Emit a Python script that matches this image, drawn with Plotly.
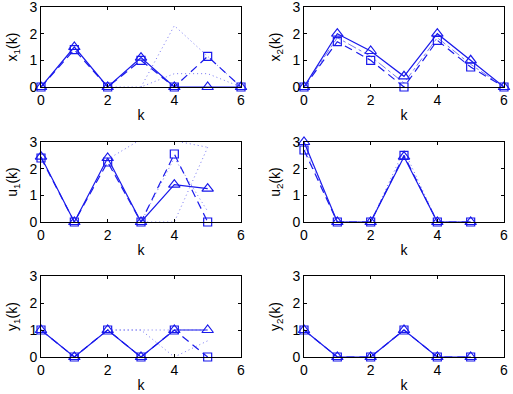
import plotly.graph_objects as go

# ---------------- data ----------------
k7 = [0, 1, 2, 3, 4, 5, 6]
k6 = [0, 1, 2, 3, 4, 5]

x1_tri = [0, 1.5, 0, 1.1, 0, 0, 0]
x1_sq = [0, 1.4, 0, 1.0, 0, 1.15, 0]
x1_dot_a = [None, None, None, 0, 2.3, 1.15, 0]
x1_dot_b = [None, None, 0, 0, 0.5, 0.5, 0]

x2_tri = [0, 2.0, 1.35, 0.4, 2.0, 1.0, 0]
x2_sq = [0, 1.7, 1.0, 0.0, 1.75, 0.75, 0]
x2_dd = [0, 1.85, 1.15, 0.15, 1.85, 0.85, 0]

u1_tri = [2.45, 0, 2.4, 0, 1.4, 1.25]
u1_sq = [2.4, 0, 2.25, 0, 2.55, 0]
u1_dot_a = [None, None, 2.35, 3.1, 3.05, 2.8]
u1_dot_b = [None, None, None, 0, 2.4, 0.4]
u1_dot_c = [None, None, 2.3, 0, 0, 2.8]

u2_tri = [3.0, 0, 0, 2.45, 0, 0]
u2_sq = [2.7, 0, 0, 2.5, 0, 0]
u2_dot = [2.85, 0, 0, 2.7, 0, 0]

y1_tri = [1, 0, 1, 0, 1, 1]
y1_sq = [1, 0, 1, 0, 1, 0]
y1_dot_a = [None, None, 1, 1, 1, 1]
y1_dot_b = [None, None, 1, 1, 0, 0.6]

y2_tri = [1, 0, 0, 1, 0, 0]
y2_sq = [1, 0, 0, 1, 0, 0]

ylabels = ["x<sub>1</sub>(k)", "x<sub>2</sub>(k)", "u<sub>1</sub>(k)",
           "u<sub>2</sub>(k)", "y<sub>1</sub>(k)", "y<sub>2</sub>(k)"]
xticks = [0, 2, 4, 6]
yticks = [0, 1, 2, 3]

# ---------------- layout geometry ----------------
W, H = 513, 394
col_px = [(41, 241), (304, 504)]
row_px = [(7, 87), (142, 222), (276, 357)]

BLUE = "rgb(25,25,235)"
FAINT = "rgba(60,60,235,0.7)"
FONT = "Liberation Sans, Arial, sans-serif"

fig = go.Figure()

panels = [
    (k7, [("tri", x1_tri), ("sq", x1_sq), ("dot", x1_dot_a), ("dot", x1_dot_b)]),
    (k7, [("tri", x2_tri), ("sq", x2_sq), ("dd", x2_dd)]),
    (k6, [("tri", u1_tri), ("sq", u1_sq), ("dot", u1_dot_a), ("dot", u1_dot_b), ("dot", u1_dot_c)]),
    (k6, [("tri", u2_tri), ("sq", u2_sq), ("dot", u2_dot)]),
    (k6, [("tri", y1_tri), ("sq", y1_sq), ("dot", y1_dot_a), ("dot", y1_dot_b)]),
    (k6, [("tri", y2_tri), ("sq", y2_sq)]),
]

for i, (kk, series) in enumerate(panels):
    r, c = divmod(i, 2)
    n = "" if i == 0 else str(i + 1)
    xa, ya = "x" + n, "y" + n
    for kind, vals in series:
        if kind == "tri":
            fig.add_trace(go.Scatter(x=kk, y=vals, xaxis=xa, yaxis=ya, mode="lines+markers",
                                     line=dict(color=BLUE, width=1.2),
                                     marker=dict(symbol="triangle-up-open", size=10,
                                                 color=BLUE, line=dict(width=1.2)),
                                     cliponaxis=False, showlegend=False))
        elif kind == "sq":
            fig.add_trace(go.Scatter(x=kk, y=vals, xaxis=xa, yaxis=ya, mode="lines+markers",
                                     line=dict(color=BLUE, width=1.2, dash="8px,5px"),
                                     marker=dict(symbol="square-open", size=8,
                                                 color=BLUE, line=dict(width=1.2)),
                                     cliponaxis=False, showlegend=False))
        elif kind == "dd":
            fig.add_trace(go.Scatter(x=kk, y=vals, xaxis=xa, yaxis=ya, mode="lines",
                                     line=dict(color=FAINT, width=1, dash="dashdot"),
                                     showlegend=False))
        else:
            fig.add_trace(go.Scatter(x=kk, y=vals, xaxis=xa, yaxis=ya, mode="lines",
                                     line=dict(color=FAINT, width=1, dash="1px,3px"),
                                     connectgaps=False, showlegend=False))
    x0, x1p = col_px[c]
    y0, y1p = row_px[r]
    axcommon = dict(showline=True, linecolor="black", linewidth=1, mirror="ticks",
                    ticks="inside", ticklen=3, tickcolor="black", showgrid=False,
                    zeroline=False, automargin=False, ticklabeloverflow="allow",
                    tickfont=dict(family=FONT, size=14, color="black"))
    fig.layout["xaxis" + n] = dict(domain=[x0 / W, x1p / W], range=[0, 6], tickvals=xticks,
                                   anchor=ya,
                                   title=dict(text="k", standoff=3,
                                              font=dict(family=FONT, size=14, color="black")),
                                   **axcommon)
    fig.layout["yaxis" + n] = dict(domain=[1 - y1p / H, 1 - y0 / H], range=[0, 3], tickvals=yticks,
                                   anchor=xa,
                                   title=dict(text=ylabels[i], standoff=8,
                                              font=dict(family=FONT, size=14, color="black")),
                                   **axcommon)

fig.update_layout(template="none", width=W, height=H, margin=dict(l=0, r=0, t=0, b=0),
                  paper_bgcolor="white", plot_bgcolor="white", showlegend=False)

fig.write_html("out.html")
